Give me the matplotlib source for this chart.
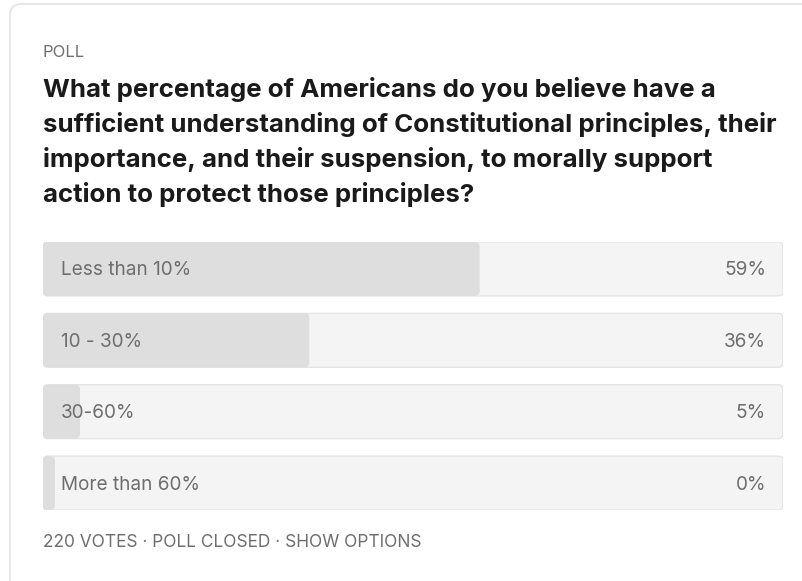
import matplotlib
matplotlib.use("Agg")
import matplotlib.pyplot as plt
from matplotlib.patches import FancyBboxPatch

# ---- data ----
kicker = "POLL"
question_lines = [
    "What percentage of Americans do you believe have a",
    "sufficient understanding of Constitutional principles, their",
    "importance, and their suspension, to morally support",
    "action to protect those principles?",
]
options = ["Less than 10%", "10 - 30%", "30-60%", "More than 60%"]
percents = [59, 36, 5, 0]
footer = "220 VOTES \u00b7 POLL CLOSED \u00b7 SHOW OPTIONS"

W, H = 803, 581
fig = plt.figure(figsize=(W / 100, H / 100), dpi=100)
fig.patch.set_facecolor("white")
renderer = fig.canvas.get_renderer()

FONT = "Inter"


def fit_size(txt, target_px, weight="normal", base=12):
    t = fig.text(0, 0, txt, fontsize=base, family=FONT, fontweight=weight)
    w = t.get_window_extent(renderer).width
    t.remove()
    return base * target_px / w


# page-level overlay axes in pixel coordinates
bg = fig.add_axes([0, 0, 1, 1])
bg.set_xlim(0, W)
bg.set_ylim(H, 0)
bg.axis("off")

card = FancyBboxPatch((10, 4), 820, 620, boxstyle="round,pad=0,rounding_size=11",
                      facecolor="white", edgecolor="#e3e3e3", linewidth=1.2)
bg.add_patch(card)

grey = "#6e6e6e"
bg.text(43, 57, kicker, fontsize=fit_size(kicker, 42), color=grey, family=FONT,
        va="baseline")
title_size = fit_size(question_lines[1], 730, weight="bold")
for i, line in enumerate(question_lines):
    bg.text(43, 97 + i * 35, line, fontsize=title_size, fontweight="bold",
            color="#1a1a1a", family=FONT, va="baseline")
bg.text(43, 547, footer, fontsize=fit_size(footer, 379), color=grey, family=FONT,
        va="baseline")

# bars axes
left, right, top, bottom = 43, 783, 242, 510
ax = fig.add_axes([left / W, 1 - bottom / H, (right - left) / W, (bottom - top) / H])
ax.set_xlim(0, 100)
n = len(options)
pitch = 71.5
bh = 54 / pitch
ax.set_ylim(n - 1 + bh / 2, -bh / 2)
ax.axis("off")
ax.patch.set_alpha(0)

px_per_x = (right - left) / 100.0
px_per_y = pitch
r_px = 5
aspect = px_per_x / px_per_y
min_fill = 12 / px_per_x
label_size = fit_size(options[0], 130)
dy = 1.5 / px_per_y

for i, (opt, p) in enumerate(zip(options, percents)):
    y0 = i - bh / 2
    back = FancyBboxPatch((0, y0), 100, bh,
                          boxstyle=f"round,pad=0,rounding_size={r_px / px_per_x}",
                          mutation_aspect=aspect,
                          facecolor="#f4f4f4", edgecolor="#e4e4e4", linewidth=1.0)
    ax.add_patch(back)
    w = max(p, min_fill)
    fill = FancyBboxPatch((0, y0), w, bh,
                          boxstyle=f"round,pad=0,rounding_size={r_px / px_per_x}",
                          mutation_aspect=aspect,
                          facecolor="#dedede", edgecolor="none")
    ax.add_patch(fill)
    ax.text(18 / px_per_x, i + dy, opt, fontsize=label_size, color=grey, family=FONT,
            va="center", ha="left")
    ax.text(100 - 17 / px_per_x, i + dy, f"{p}%", fontsize=label_size, color=grey,
            family=FONT, va="center", ha="right")

fig.savefig("out.png", dpi=100, facecolor="white")
